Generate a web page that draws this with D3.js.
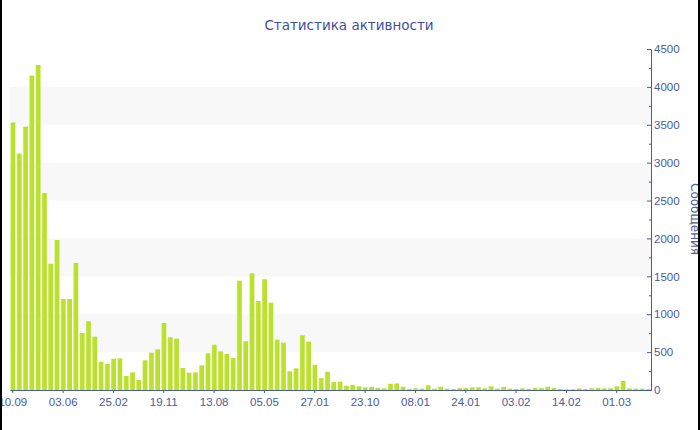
<!DOCTYPE html>
<html>
<head>
<meta charset="utf-8">
<script src="https://cdnjs.cloudflare.com/ajax/libs/d3/7.8.5/d3.min.js"></script>
<style>
  body { margin: 0; background: #fff; }
  svg { display: block; font-family: "DejaVu Sans", Verdana, sans-serif; }
</style>
</head>
<body>
<div id="areaDibujo"></div>
<script>
var title = 'Статистика активности';
var yTitle = 'Сообщения';

// сообщения по периодам
var messages = [3530, 3120, 3476, 4150, 4290, 2600, 1665, 1980, 1200, 1200,
    1676, 752, 907, 704, 374, 343, 413, 418, 185, 233,
    132, 392, 493, 537, 884, 695, 678, 290, 229, 233,
    326, 484, 598, 510, 475, 422, 1443, 643, 1540, 1175,
    1461, 1153, 664, 625, 247, 286, 722, 638, 330, 156,
    240, 104, 110, 57, 68, 48, 35, 40, 28, 22,
    82, 86, 42, 13, 22, 18, 62, 18, 44, 18,
    13, 26, 26, 35, 35, 22, 48, 18, 40, 18,
    13, 22, 15, 26, 26, 44, 26, 13, 9, 9,
    22, 13, 22, 26, 22, 22, 48, 119, 22, 18,
    18, 13];

var tickLabels = ['10.09', '03.06', '25.02', '19.11', '13.08', '05.05', '27.01',
    '23.10', '08.01', '24.01', '03.02', '14.02', '01.03'];
var tickStep = 8;
var yTicks = [0, 500, 1000, 1500, 2000, 2500, 3000, 3500, 4000, 4500];

var width = 700;
var height = 430;
var plotL = 10, plotR = 651, plotT = 49, plotB = 390;
var axisColor = '#4a5b9b';

var svg = d3.select('#areaDibujo').append('svg')
    .attr('width', width)
    .attr('height', height);

var x = d3.scaleBand()
    .domain(d3.range(messages.length))
    .range([plotL, plotR])
    .paddingInner(0.2)
    .paddingOuter(0.05);

var y = d3.scaleLinear()
    .domain([0, 4500])
    .range([plotB, plotT]);

// полосы фона
var bands = [[500, 1000], [1500, 2000], [2500, 3000], [3500, 4000]];
svg.selectAll('.band')
    .data(bands)
    .enter().append('rect')
    .attr('class', 'band')
    .attr('x', plotL)
    .attr('width', plotR - plotL)
    .attr('y', function(d) { return y(d[1]); })
    .attr('height', function(d) { return y(d[0]) - y(d[1]); })
    .attr('fill', '#f8f8f8');

var grad = svg.append('defs').append('linearGradient')
    .attr('id', 'barGrad')
    .attr('x1', '0%').attr('x2', '100%')
    .attr('y1', '0%').attr('y2', '0%');
grad.append('stop').attr('offset', '0%').attr('stop-color', '#dcef95');
grad.append('stop').attr('offset', '22%').attr('stop-color', '#bde12f');
grad.append('stop').attr('offset', '100%').attr('stop-color', '#bade2c');

svg.selectAll('.bar')
    .data(messages)
    .enter().append('rect')
    .attr('class', 'bar')
    .attr('x', function(d, i) { return x(i); })
    .attr('width', x.bandwidth())
    .attr('y', function(d) { return y(d); })
    .attr('height', function(d) { return plotB - y(d); })
    .attr('fill', 'url(#barGrad)');

// ось X
var xAxis = d3.axisBottom(x)
    .tickValues(d3.range(0, messages.length, tickStep))
    .tickFormat(function(d) { return tickLabels[d / tickStep]; })
    .tickSize(3)
    .tickSizeOuter(0);

var gx = svg.append('g')
    .attr('transform', 'translate(0,' + plotB + ')')
    .call(xAxis);
gx.select('.domain').attr('stroke', axisColor);
gx.selectAll('.tick line').attr('stroke', axisColor);
gx.selectAll('.tick text')
    .attr('fill', axisColor)
    .attr('font-size', '11.5px')
    .attr('dy', '0.85em');

// ось Y справа
var yMinor = d3.axisLeft(y)
    .tickValues(d3.range(250, 4500, 500))
    .tickSize(2)
    .tickFormat('')
    .tickSizeOuter(0);
var gm = svg.append('g')
    .attr('transform', 'translate(' + plotR + ',0)')
    .call(yMinor);
gm.select('.domain').remove();
gm.selectAll('.tick line').attr('stroke', axisColor);

var gy = svg.append('g')
    .attr('transform', 'translate(' + plotR + ',0)')
    .call(d3.axisRight(y).tickValues(yTicks).tickFormat(d3.format('d'))
        .tickSize(0).tickPadding(3).tickSizeOuter(0));
gy.select('.domain').attr('stroke', axisColor);
gy.selectAll('.tick text')
    .attr('fill', axisColor)
    .attr('font-size', '11.5px');
gy.selectAll('.tick').append('line')
    .attr('x1', -4).attr('x2', 0)
    .attr('stroke', axisColor);

svg.append('text')
    .attr('x', 349)
    .attr('y', 30)
    .attr('text-anchor', 'middle')
    .attr('font-size', '13.5px')
    .attr('fill', '#3d4f9e')
    .text(title);

svg.append('text')
    .attr('transform', 'translate(691,219) rotate(90)')
    .attr('text-anchor', 'middle')
    .attr('font-size', '12px')
    .attr('fill', axisColor)
    .text(yTitle);

// рамка по краям
svg.append('rect').attr('x', 0).attr('y', 0).attr('width', 2).attr('height', height).attr('fill', '#000');
svg.append('rect').attr('x', 698).attr('y', 0).attr('width', 2).attr('height', height).attr('fill', '#000');
</script>
</body>
</html>
